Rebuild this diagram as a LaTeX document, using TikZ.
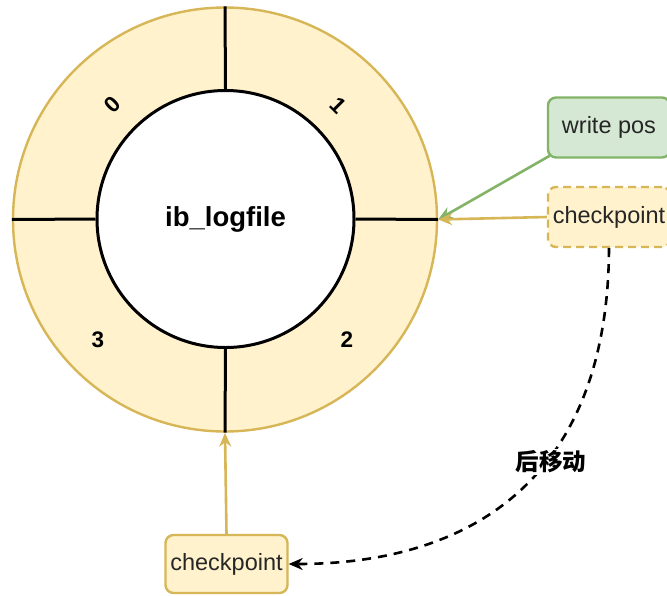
\documentclass[tikz,border=0pt]{standalone}
\usepackage{fontspec}
\setmainfont{Liberation Sans}
\newfontfamily\cjk{Noto Sans CJK SC}
\usetikzlibrary{arrows.meta,calc}
\definecolor{yfill}{HTML}{FFF2CC}
\definecolor{ystroke}{HTML}{D6B656}
\definecolor{gfill}{HTML}{D5E8D4}
\definecolor{gstroke}{HTML}{82B366}
\tikzset{
  ring/.style={circle, draw=ystroke, fill=yfill, line width=2.4, minimum size=424, inner sep=0},
  hole/.style={circle, draw=black, fill=white, line width=3, minimum size=257, inner sep=0, font=\fontsize{27.5}{32}\selectfont\bfseries},
  divider/.style={draw=black, line width=3},
  seglabel/.style={font=\fontsize{22.5}{26}\selectfont\bfseries, inner sep=0},
  box/.style={rectangle, rounded corners=8, line width=2.4, minimum width=122, minimum height=60, inner sep=0, font=\fontsize{23.5}{28}\selectfont, text=black!85},
  ybox/.style={box, draw=ystroke, fill=yfill},
  gbox/.style={box, draw=gstroke, fill=gfill},
  conn/.style={line width=2.6, -{Stealth[length=14,width=12]}},
}
\begin{document}
\begin{tikzpicture}[x=1pt,y=-1pt]
\useasboundingbox (0,0) rectangle (667,595);
\node[ring] (outer) at (225,219.5) {};
\node[hole] (inner) at (225.5,219) {ib\_logfile};
\draw[divider] (inner.north) -- (outer.north);
\draw[divider] (inner.south) -- (outer.south);
\draw[divider] (inner.west) -- (outer.west);
\draw[divider] (inner.east) -- (outer.east);
\node[seglabel, rotate=45] (l0) at (112,105) {0};
\node[seglabel, rotate=-45] (l1) at (338,105) {1};
\node[seglabel] (l2) at (347,340) {2};
\node[seglabel] (l3) at (98,340) {3};
\node[gbox] (wp) at (609,127.5) {write pos};
\node[ybox, dashed, dash pattern=on 8 off 5] (cpr) at (609,217) {checkpoint};
\node[ybox, minimum height=58] (cpb) at (226.5,564) {checkpoint};
\draw[conn, draw=gstroke] ($(wp.south west)+(3,-3)$) -- (outer.east);
\draw[conn, draw=ystroke] (cpr.west) -- (outer.east);
\draw[conn, draw=ystroke] (cpb.north) -- (outer.south);
\draw[conn, draw=black, dash pattern=on 9 off 7] (cpr.south) .. controls (608,480) and (470,564) .. (cpb.east);
\node[fill=white, inner sep=2, font=\fontsize{23.5}{26}\selectfont\cjk\bfseries] (mv) at (551,462) {后移动};
\end{tikzpicture}
\end{document}
